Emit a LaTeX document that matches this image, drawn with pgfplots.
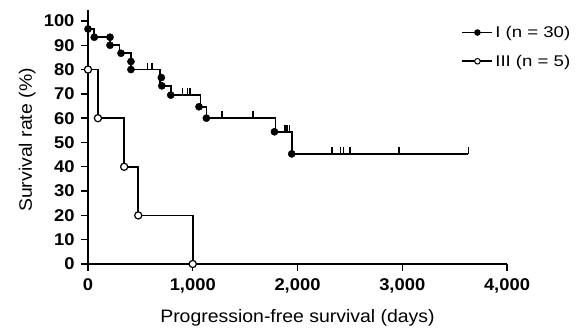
\documentclass[border=0pt]{standalone}
\usepackage{fontspec}
\setmainfont{Liberation Sans}[FakeStretch=1.08]
\newfontfamily\legfont{Liberation Sans}[FakeStretch=1.2]
\usepackage{pgfplots}
\pgfplotsset{compat=1.18}

% Kaplan-Meier curves, group I (filled) and group III (open)
\pgfplotstableread{
x     y
0     100
0     96.7
60    93.3
210   90.0
300   86.7
410   80.0
690   73.3
790   69.5
1075  64.7
1130  60.0
1790  54.4
1950  45.3
3630  45.3
}\stepI
\pgfplotstableread{
x     y
0     96.7
60    93.3
210   93.3
210   90.0
315   86.7
410   83.3
410   80.0
700   76.7
705   73.3
790   69.5
1060  64.7
1130  60.0
1780  54.4
1945  45.3
}\eventsI
\pgfplotstableread{
x     y
570   80.0
610   80.0
900   69.5
950   69.5
975   69.5
1280  60.0
1575  60.0
1880  54.4
1900  54.4
1925  54.4
2330  45.3
2410  45.3
2440  45.3
2500  45.3
2970  45.3
3630  45.3
}\censorI
\pgfplotstableread{
x     y
0     80
95    60
345   40
480   20
1000  0
}\stepIII

\begin{document}
\begin{tikzpicture}[x=1pt,y=1pt]
\path[use as bounding box] (-88,-68) rectangle (495,264);
\begin{axis}[
  at={(0,0)}, anchor=south west,
  scale only axis, width=419pt, height=254pt,
  xmin=0, xmax=4000, ymin=0, ymax=104.5,
  axis lines=left,
  axis line style={-, line width=1.6pt},
  xtick={0,1000,2000,3000,4000},
  ytick={0,10,...,100},
  tick align=outside,
  major tick length=7pt,
  tick style={line width=1.4pt, black},
  /pgf/number format/assume math mode=true,
  xticklabel={\pgfmathprintnumber{\tick}},
  yticklabel={\pgfmathprintnumber{\tick}},
  x tick label style={/pgf/number format/1000 sep={,}, font=\fontsize{17}{18}\selectfont\bfseries, yshift=-4pt},
  y tick label style={font=\fontsize{17}{18}\selectfont\bfseries, xshift=-3pt},
  xlabel={Progression-free survival (days)},
  ylabel={Survival rate (\%)},
  label style={font=\fontsize{18}{20}\selectfont},
  x label style={at={(axis description cs:0.5,-0.232)}, anchor=base},
  y label style={at={(axis description cs:-0.134,0.488)}, anchor=base, rotate=0},
  legend style={draw=none, fill=none, at={(axis description cs:0.891,0.945)}, anchor=north west,
    font=\legfont\fontsize{15.5}{17}\selectfont, row sep=12pt, inner sep=0pt,
    nodes={inner sep=2pt}},
  legend cell align=left,
  legend image code/.code={\draw[mark repeat=2,mark phase=2,#1]
    plot coordinates {(0pt,0pt) (15pt,0pt) (30pt,0pt)};},
  clip=false,
]
\addlegendimage{black, line width=1.8pt, mark=*, mark size=2.8pt, mark options={solid, line width=0.9pt}}
\addlegendentry{I (n = 30)}
\addlegendimage{black, line width=1.8pt, mark=*, mark size=2.8pt, mark options={solid, fill=white, line width=1pt}}
\addlegendentry{III (n = 5)}

\addplot[const plot, black, line width=1.6pt, forget plot] table {\stepI};
\addplot[const plot, black, line width=1.6pt, forget plot] table {\stepIII};
\addplot[only marks, mark=|, mark size=3.5pt, mark options={yshift=3.5pt, line width=1.3pt}, black, forget plot] table {\censorI};
\addplot[only marks, mark=*, mark size=3.6pt, black, forget plot] table {\eventsI};
\addplot[only marks, mark=*, mark size=3.6pt, mark options={fill=white, line width=1.2pt}, black, forget plot] table {\stepIII};
\end{axis}
\end{tikzpicture}
\end{document}
